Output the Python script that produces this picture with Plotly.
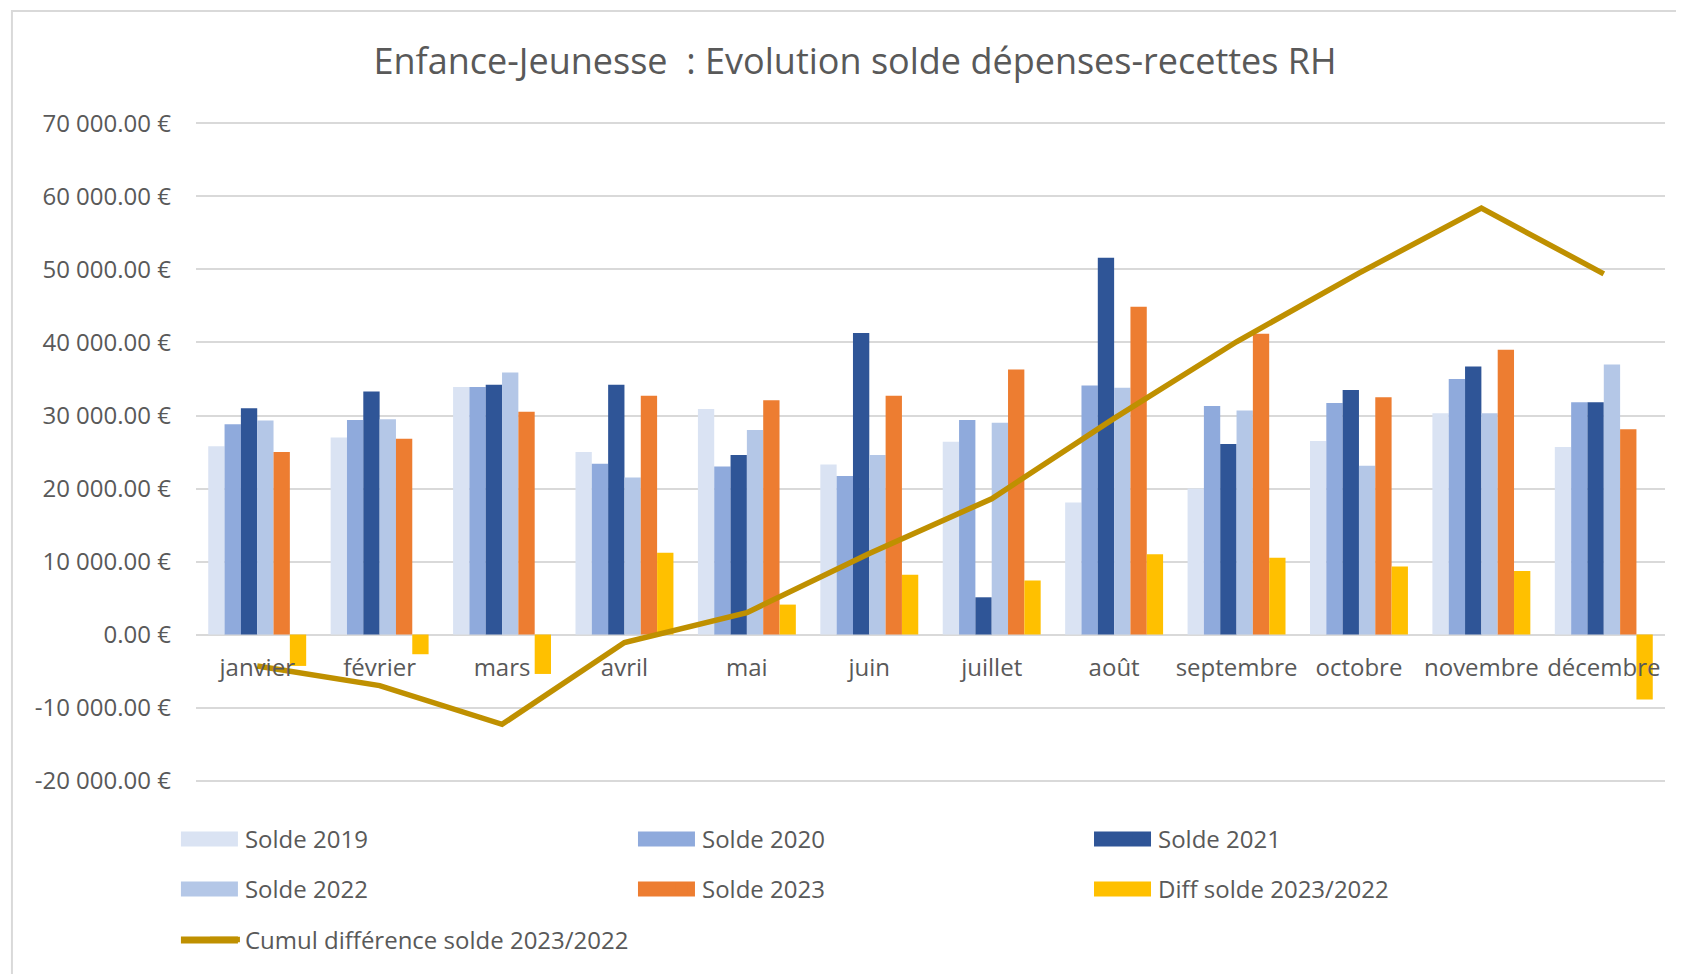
import plotly.graph_objects as go

months = ["janvier", "février", "mars", "avril", "mai", "juin",
          "juillet", "août", "septembre", "octobre", "novembre", "décembre"]

solde_2019 = [25800, 27000, 33900, 25000, 30900, 23300, 26400, 18100, 20000, 26500, 30300, 25700]
solde_2020 = [28800, 29400, 33900, 23400, 23000, 21700, 29400, 34100, 31300, 31700, 35000, 31800]
solde_2021 = [31000, 33300, 34200, 34200, 24600, 41300, 5100, 51600, 26100, 33500, 36700, 31800]
solde_2022 = [29300, 29500, 35900, 21500, 28000, 24600, 29000, 33800, 30700, 23100, 30300, 37000]
solde_2023 = [25000, 26800, 30500, 32700, 32100, 32700, 36300, 44900, 41200, 32500, 39000, 28100]
diff_2023_2022 = [-4300, -2700, -5400, 11200, 4100, 8200, 7400, 11000, 10500, 9300, 8700, -8900]
cumul_diff = [-4300, -7000, -12300, -1100, 3000, 11100, 18600, 29600, 40100, 49500, 58400, 49400]

y_ticks = [-20000, -10000, 0, 10000, 20000, 30000, 40000, 50000, 60000, 70000]
y_ticktext = [f"{v:,.2f}".replace(",", " ") + " €" for v in y_ticks]

grey = "#595959"
font_family = "Open Sans"

# page body has an 8px margin, so the figure is a bit smaller than the window
W, H = 1676, 966
M_L, M_R, M_T, M_B = 188, 19, 114, 192
plot_w = W - M_L - M_R
plot_h = H - M_T - M_B

col_x = [0.1175, 0.3902, 0.6623]
row_y = [0.1398, 0.0880, 0.0352]

series = [
    ("Solde 2019", solde_2019, "#dae3f3", "legend", col_x[0], row_y[0]),
    ("Solde 2020", solde_2020, "#8faadc", "legend2", col_x[1], row_y[0]),
    ("Solde 2021", solde_2021, "#2f5597", "legend3", col_x[2], row_y[0]),
    ("Solde 2022", solde_2022, "#b4c7e7", "legend4", col_x[0], row_y[1]),
    ("Solde 2023", solde_2023, "#ed7d31", "legend5", col_x[1], row_y[1]),
    ("Diff solde 2023/2022", diff_2023_2022, "#ffc000", "legend6", col_x[2], row_y[1]),
]
line_color = "#bf9000"


def to_paper(px, py):
    # figure pixel -> paper coords
    return (px - M_L) / plot_w, (H - M_B - py) / plot_h


def swatch(lx, ly, color, thick):
    # Excel-like wide legend swatch, left of the legend text
    tx = lx * W + 40
    cy = (1 - ly) * H
    x0, y0 = to_paper(tx - 64, cy - thick / 2)
    x1, y1 = to_paper(tx - 7, cy + thick / 2)
    return dict(type="rect", xref="paper", yref="paper",
                x0=x0, x1=x1, y0=y0, y1=y1,
                fillcolor=color, line=dict(width=0), layer="above")


fig = go.Figure()

legends = {}
shapes = [
    dict(
        type="rect", xref="paper", yref="paper",
        x0=-0.1253, x1=1.2, y0=-0.5, y1=1.168,
        line=dict(color="#d9d9d9", width=2),
        fillcolor="rgba(0,0,0,0)",
        layer="below",
    )
]
for name, values, color, leg, lx, ly in series:
    fig.add_trace(
        go.Bar(
            x=months,
            y=values,
            name=name,
            marker=dict(color=color, line=dict(width=0)),
            legend=leg,
        )
    )
    legends[leg] = (lx, ly)
    shapes.append(swatch(lx, ly, color, 15))

fig.add_trace(
    go.Scatter(
        x=months,
        y=cumul_diff,
        name="Cumul différence solde 2023/2022",
        mode="lines",
        line=dict(color=line_color, width=5.5),
        legend="legend7",
    )
)
legends["legend7"] = (col_x[0], row_y[2])
shapes.append(swatch(col_x[0], row_y[2], line_color, 7))

legend_layout = {}
for leg, (lx, ly) in legends.items():
    legend_layout[leg] = dict(
        xref="container", yref="container",
        x=lx, y=ly, xanchor="left", yanchor="middle",
        font=dict(family=font_family, size=24, color=grey),
        bgcolor="rgba(0,0,0,0)",
        borderwidth=0,
    )

fig.update_layout(
    **legend_layout,
    width=W,
    height=H,
    paper_bgcolor="white",
    plot_bgcolor="white",
    barmode="group",
    bargap=0.2,
    bargroupgap=0,
    showlegend=True,
    margin=dict(l=M_L, r=M_R, t=M_T, b=M_B, autoexpand=False),
    font=dict(family=font_family, color=grey),
    title=dict(
        text="Enfance-Jeunesse  : Evolution solde dépenses-recettes RH",
        x=0.5054, xanchor="center",
        y=0.9451, yanchor="middle",
        xref="container", yref="container",
        font=dict(family=font_family, size=36, color=grey),
    ),
    xaxis=dict(
        type="category",
        anchor="free",
        position=20200 / 90400,
        showgrid=False,
        showline=False,
        zeroline=False,
        ticks="",
        ticklabelstandoff=16,
        tickfont=dict(family=font_family, size=24, color=grey),
        automargin=False,
    ),
    yaxis=dict(
        range=[-20200, 70200],
        tickvals=y_ticks,
        ticktext=y_ticktext,
        showgrid=True,
        gridcolor="#d9d9d9",
        gridwidth=1.5,
        zeroline=True,
        zerolinecolor="#d9d9d9",
        zerolinewidth=1.5,
        showline=False,
        ticks="",
        ticklabelstandoff=24,
        tickfont=dict(family=font_family, size=24, color=grey),
        automargin=False,
    ),
    shapes=shapes,
)

fig.write_html("out.html")
